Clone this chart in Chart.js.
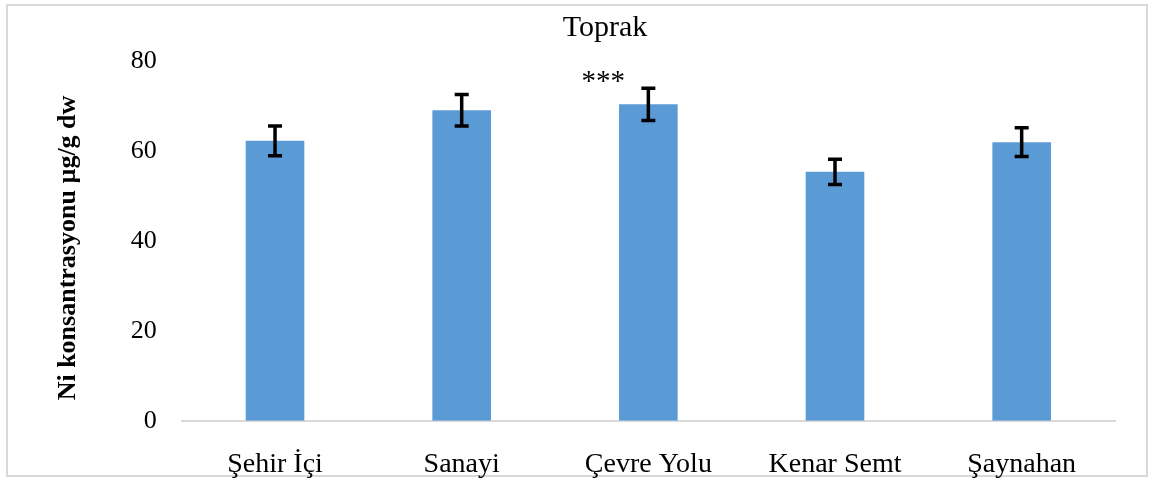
<!DOCTYPE html>
<html>
<head>
<meta charset="utf-8">
<script src="https://cdn.jsdelivr.net/npm/chart.js@4/dist/chart.umd.min.js"></script>
<style>
  html, body { margin: 0; padding: 0; background: #fff; }
  #wrap { width: 1153px; height: 480px; position: relative; }
</style>
</head>
<body>
<div id="wrap"><canvas id="chart"></canvas></div>
<script>
// values
const categories = ['Şehir İçi', 'Sanayi', 'Çevre Yolu', 'Kenar Semt', 'Şaynahan'];
const niValues = [62.2, 69.0, 70.3, 55.3, 61.9];
const niErrors = [3.3, 3.5, 3.6, 2.8, 3.2];
const yTicks = [0, 20, 40, 60, 80];
const significance = ['', '', '***', '', ''];

const chartTitle = 'Toprak';
const yTitle = 'Ni konsantrasyonu µg/g dw';
const serif = '"Liberation Serif", "Times New Roman", serif';

// error bars, stars, title, y title and frame
const extrasPlugin = {
    id: 'extras',
    beforeDraw(chart) {
        const ctx = chart.ctx;
        ctx.save();
        ctx.fillStyle = '#fff';
        ctx.fillRect(0, 0, chart.width, chart.height);
        ctx.strokeStyle = '#d9d9d9';
        ctx.lineWidth = 2;
        ctx.strokeRect(7, 5, 1140, 471);
        ctx.restore();
    },
    afterDatasetsDraw(chart) {
        const ctx = chart.ctx;
        const x = chart.scales.x;
        const y = chart.scales.y;
        ctx.save();
        ctx.strokeStyle = '#000';
        ctx.lineWidth = 3.5;
        niValues.forEach((v, i) => {
            const cx = x.getPixelForValue(i);
            const top = y.getPixelForValue(v + niErrors[i]);
            const bot = y.getPixelForValue(v - niErrors[i]);
            ctx.beginPath();
            ctx.moveTo(cx, top);
            ctx.lineTo(cx, bot);
            ctx.moveTo(cx - 7, top);
            ctx.lineTo(cx + 7, top);
            ctx.moveTo(cx - 7, bot);
            ctx.lineTo(cx + 7, bot);
            ctx.stroke();
            if (significance[i]) {
                ctx.fillStyle = '#000';
                ctx.font = '29px ' + serif;
                ctx.textAlign = 'center';
                ctx.textBaseline = 'middle';
                ctx.fillText(significance[i], cx - 45, top - 6);
            }
        });

        ctx.fillStyle = '#000';
        ctx.textAlign = 'center';
        ctx.textBaseline = 'middle';
        ctx.font = '30px ' + serif;
        ctx.fillText(chartTitle, 605, 28);

        ctx.translate(68, 248);
        ctx.rotate(-Math.PI / 2);
        ctx.font = 'bold 26px ' + serif;
        ctx.fillText(yTitle, 0, 0);
        ctx.restore();
    },
};

new Chart(document.getElementById('chart'), {
    type: 'bar',
    data: {
        labels: categories,
        datasets: [{
            label: 'Ni',
            data: niValues,
            backgroundColor: '#5b9bd5',
            categoryPercentage: 1,
            barPercentage: 0.314,
        }],
    },
    options: {
        responsive: true,
        maintainAspectRatio: false,
        animation: false,
        layout: { padding: { top: 60.7, right: 38, left: 0, bottom: 0 } },
        plugins: {
            legend: { display: false },
            tooltip: { enabled: false },
        },
        scales: {
            x: {
                grid: { display: false, drawTicks: false },
                border: { color: '#d9d9d9', width: 2 },
                ticks: {
                    color: '#000',
                    padding: 27,
                    font: { family: serif, size: 28 },
                },
                afterFit(scale) { scale.height = 59.3; },
            },
            y: {
                min: 0,
                max: 80,
                afterBuildTicks(scale) { scale.ticks = yTicks.map((v) => ({ value: v })); },
                grid: { display: false, drawTicks: false },
                border: { display: false },
                ticks: {
                    color: '#000',
                    padding: 25,
                    font: { family: serif, size: 26 },
                },
                afterFit(scale) { scale.width = 181.7; },
            },
        },
    },
    plugins: [extrasPlugin],
});
</script>
</body>
</html>
